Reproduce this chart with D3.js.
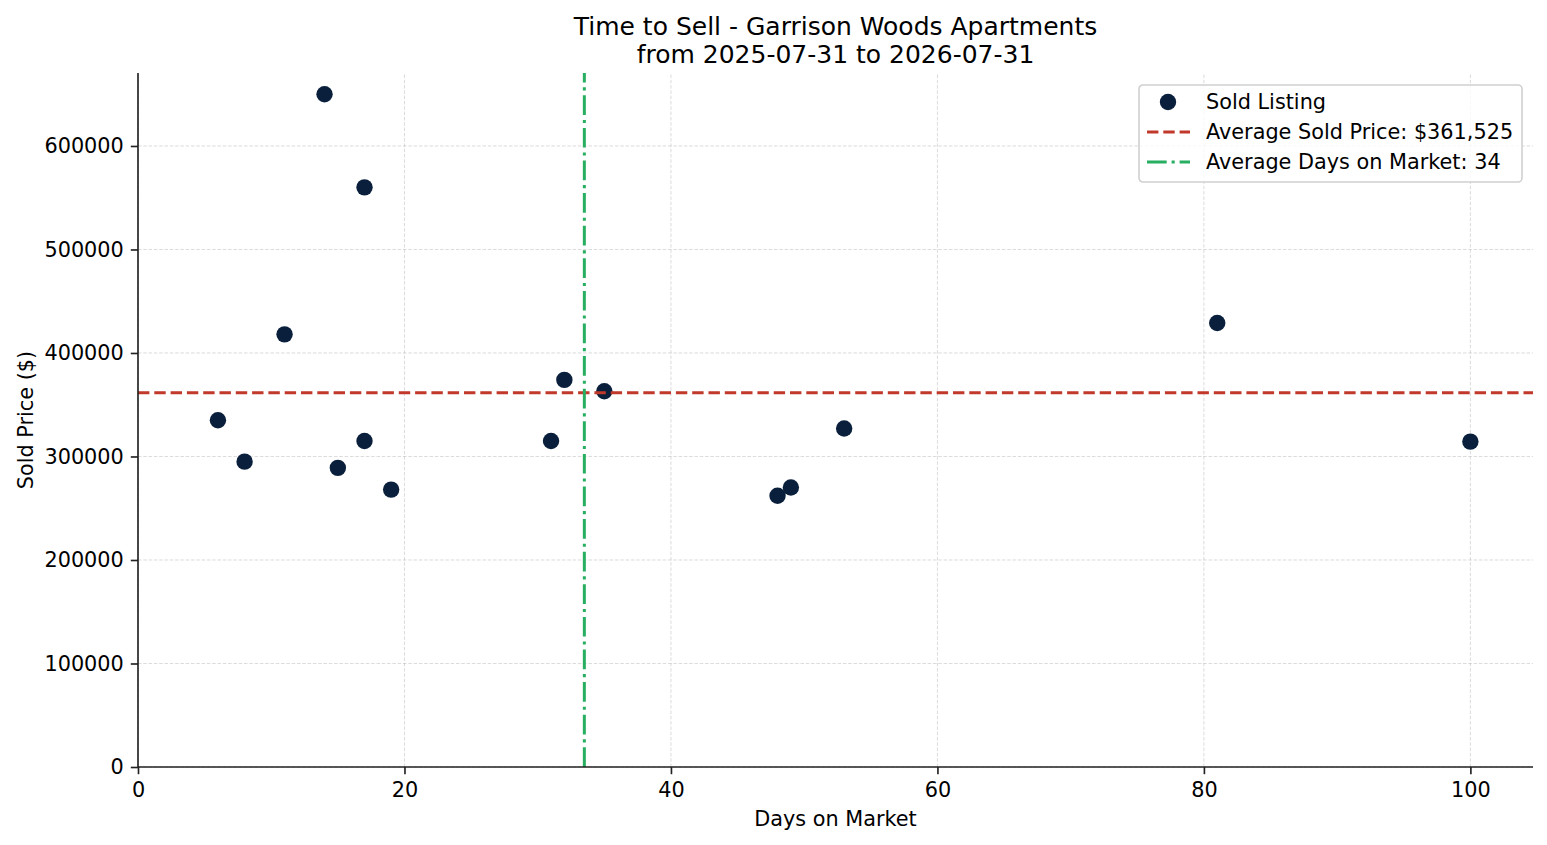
<!DOCTYPE html>
<html><head><meta charset="utf-8">
<script src="https://cdn.jsdelivr.net/npm/d3@7"></script>
<style>body{margin:0;background:#fff}svg{display:block}text{font-family:"DejaVu Sans",sans-serif}</style>
</head><body><svg id="c" width="1547" height="845"></svg>
<script>
const days = [6, 8, 11, 14, 15, 17, 17, 19, 31, 32, 35, 48, 49, 53, 81, 100];
const prices = [335000, 295000, 418000, 650000, 289000, 560000, 315000, 268000, 315000, 374000, 363000, 262000, 270000, 327000, 429000, 314400];
const xTicks = [0, 20, 40, 60, 80, 100];
const yTicks = [0, 100000, 200000, 300000, 400000, 500000, 600000];
const titleLines = ["Time to Sell - Garrison Woods Apartments", "from 2025-07-31 to 2026-07-31"];

const svg = d3.select("#c");
const L = 138, R = 1533, T = 73, B = 767;
const x = d3.scaleLinear().domain([0, 104.7]).range([L, R]);
const y = d3.scaleLinear().domain([0, 670500]).range([B, T]);
const avgP = d3.mean(prices), avgD = d3.mean(days);
const navy = "#0a1f3b", red = "#c0392b", green = "#27ae60";
const dashRed = "11.4,4.9", dashGreen = "19.7,4.9,3.1,4.9";

// grid
const g = svg.append("g");
g.selectAll(".gx").data(xTicks).enter().append("line")
  .attr("x1", d => x(d)).attr("x2", d => x(d)).attr("y1", B).attr("y2", T)
  .attr("stroke", "#b0b0b0").attr("stroke-opacity", 0.5).attr("stroke-width", 0.9).attr("stroke-dasharray", "3.5,1.8");
g.selectAll(".gy").data(yTicks).enter().append("line")
  .attr("y1", d => y(d)).attr("y2", d => y(d)).attr("x1", L).attr("x2", R)
  .attr("stroke", "#b0b0b0").attr("stroke-opacity", 0.5).attr("stroke-width", 0.9).attr("stroke-dasharray", "3.5,1.8");

// points
svg.append("g").selectAll("circle").data(days).enter().append("circle")
  .attr("cx", d => x(d)).attr("cy", (d, i) => y(prices[i])).attr("r", 8.2).attr("fill", navy);

// avg lines
svg.append("line").attr("x1", L).attr("x2", R).attr("y1", y(avgP)).attr("y2", y(avgP))
  .attr("stroke", red).attr("stroke-width", 3).attr("stroke-dasharray", dashRed);
svg.append("line").attr("x1", x(avgD)).attr("x2", x(avgD)).attr("y1", B).attr("y2", T)
  .attr("stroke", green).attr("stroke-width", 3).attr("stroke-dasharray", dashGreen);

// axes
const fs = 20.8;
const xa = svg.append("g").attr("transform", `translate(0,${B})`)
  .call(d3.axisBottom(x).tickValues(xTicks).tickFormat(d3.format("d")).tickSize(7.2).tickPadding(8).tickSizeOuter(0));
const ya = svg.append("g").attr("transform", `translate(${L},0)`)
  .call(d3.axisLeft(y).tickValues(yTicks).tickFormat(d3.format("d")).tickSize(7.2).tickPadding(7).tickSizeOuter(0));
[xa, ya].forEach(a => {
  a.selectAll("path.domain").attr("stroke", "#222").attr("stroke-width", 1.65);
  a.selectAll(".tick line").attr("stroke", "#222").attr("stroke-width", 1.65);
  a.selectAll(".tick text").attr("font-size", fs).attr("fill", "#000").attr("font-family", "DejaVu Sans");
});
ya.select("path.domain").attr("d", `M0,${B}V${T}`);
xa.select("path.domain").attr("d", `M${L},0H${R}`);

svg.append("text").attr("x", (L + R) / 2).attr("y", 826).attr("text-anchor", "middle").attr("font-size", fs).text("Days on Market");
svg.append("text").attr("transform", `translate(33,${(T + B) / 2}) rotate(-90)`).attr("text-anchor", "middle").attr("font-size", fs).text("Sold Price ($)");

svg.selectAll(".title").data(titleLines).enter().append("text")
  .attr("x", (L + R) / 2).attr("y", (d, i) => 35 + i * 28).attr("text-anchor", "middle").attr("font-size", 25).text(d => d);

// legend
const lg = svg.append("g").attr("transform", "translate(1139,85)");
lg.append("rect").attr("width", 383).attr("height", 97).attr("rx", 4).attr("fill", "#fff").attr("fill-opacity", 0.8)
  .attr("stroke", "#d0d0d0").attr("stroke-width", 1.6);
const labels = ["Sold Listing", "Average Sold Price: $" + d3.format(",")(Math.round(avgP)), "Average Days on Market: " + Math.round(avgD)];
lg.append("circle").attr("cx", 29).attr("cy", 17).attr("r", 8.2).attr("fill", navy);
lg.append("line").attr("x1", 8).attr("x2", 51).attr("y1", 47).attr("y2", 47).attr("stroke", red).attr("stroke-width", 3).attr("stroke-dasharray", dashRed);
lg.append("line").attr("x1", 8).attr("x2", 51).attr("y1", 77).attr("y2", 77).attr("stroke", green).attr("stroke-width", 3).attr("stroke-dasharray", dashGreen);
lg.selectAll(".lt").data(labels).enter().append("text").attr("x", 67).attr("y", (d, i) => 24 + i * 30)
  .attr("font-size", fs).attr("fill", "#000").text(d => d);
</script></body></html>
